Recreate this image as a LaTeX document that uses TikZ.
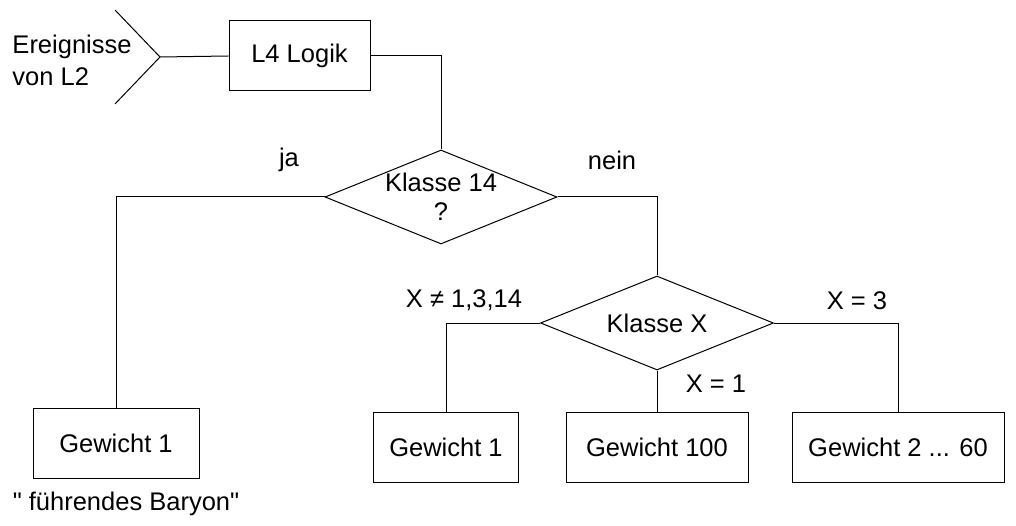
\documentclass[tikz,border=0pt]{standalone}
\usepackage{fontspec}
\setmainfont{Liberation Sans}
\usetikzlibrary{shapes,arrows}

\begin{document}
\begin{tikzpicture}[x=1pt,y=-1pt,line width=1pt,font=\fontsize{25.5}{31}\selectfont]
\tikzstyle{block}=[draw,rectangle,inner sep=0pt,minimum height=70pt]
\tikzstyle{decision}=[draw,diamond,aspect=2.5,inner sep=0pt,align=center,font=\fontsize{25.5}{28}\selectfont]
\tikzstyle{txt}=[inner sep=0pt]
\useasboundingbox (0,0) rectangle (1016,526);
% input
\coordinate (intop) at (115,10);
\coordinate (in) at (160,57);
\coordinate (inbot) at (115,104);
\draw (intop) -- (in) -- (inbot);
\node[txt,anchor=west,align=left,font=\fontsize{25.5}{32}\selectfont] (ev) at (12,60) {Ereignisse\\von L2};
\node[block,minimum width=141pt] (logic) at (299.5,56) {L4 Logik};
% decisions
\node[decision,minimum width=232pt,minimum height=94pt] (k14) at (441,197) {Klasse 14\\[1pt]?};
\node[decision,minimum width=233pt,minimum height=94pt] (kx) at (657,323) {Klasse X};
% weights
\node[block,minimum width=166pt] (lead) at (116,443) {Gewicht 1};
\node[block,minimum width=145pt] (w1) at (446,447) {Gewicht 1};
\node[block,minimum width=182pt] (w100) at (657,447) {Gewicht 100};
\node[block,minimum width=212pt] (wn) at (898,447) {Gewicht 2 ... 60};
% connections
\draw (in) -- (logic.west);
\draw (logic.east) -| (k14.north);
\draw (k14.west) -| (lead.north);
\draw (k14.east) -| (kx.north);
\draw (kx.west) -| (w1.north);
\draw (kx.south) -- (w100.north);
\draw (kx.east) -| (wn.north);
% labels
\node[txt] (ja) at (289,160) {ja};
\node[txt] (nein) at (612,160) {nein};
\node[txt] (xnot) at (464,300) {X ≠ 1,3,14};
\node[txt] (x3) at (857,301) {X = 3};
\node[txt] (x1) at (716,384) {X = 1};
\node[txt] (baryon) at (126,504) {\textquotedbl{} führendes Baryon\textquotedbl};
\end{tikzpicture}
\end{document}
